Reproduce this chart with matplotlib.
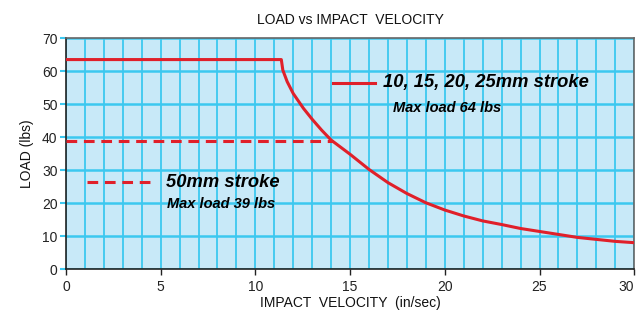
import numpy as np
import matplotlib.pyplot as plt
from matplotlib.ticker import MultipleLocator

plt.rcParams['font.family'] = ['Liberation Sans', 'DejaVu Sans']

velocity = [0, 11.37, 11.45, 11.68, 12, 12.54, 13, 13.5, 14, 15, 16, 17, 18, 19,
            20, 21, 22, 23, 24, 25, 26, 27, 28, 29, 30]
load_short = [63.5, 63.5, 60.3, 56.8, 53.2, 48.7, 45.4, 42.1, 39.1, 34.8, 30.2,
              26.2, 22.9, 20.1, 17.9, 16.1, 14.6, 13.5, 12.3, 11.4, 10.5, 9.6, 9.0, 8.4, 8.0]
velocity_50 = [0, 14.1]
load_50 = [38.8, 38.8]
x_ticks = [0, 5, 10, 15, 20, 25, 30]

red = '#e0202a'
grid_col = '#3cc8f0'

fig = plt.figure(figsize=(6.4, 3.1), dpi=100)
ax = fig.add_axes([0.103, 0.132, 0.888, 0.745])
ax.set_facecolor('#c8e9f8')

ax.set_xlim(0, 30)
ax.set_ylim(0, 70)
ax.set_xticks(x_ticks, [str(t) for t in x_ticks])
ax.xaxis.set_minor_locator(MultipleLocator(1))
ax.yaxis.set_major_locator(MultipleLocator(10))

ax.grid(which='both', axis='x', color=grid_col, lw=1.3)
ax.grid(which='major', axis='y', color=grid_col, lw=1.8)
ax.set_axisbelow(True)

ax.plot(velocity, load_short, color=red, lw=2.2, solid_joinstyle='round', zorder=3)
ax.plot(velocity_50, load_50, color=red, lw=2.2, dashes=(3.5, 2.2), zorder=3)

# legend-like annotations
ax.plot([14.1, 16.3], [56.5, 56.5], color=red, lw=2.2)
ax.text(16.75, 56.5, '10, 15, 20, 25mm stroke', fontsize=13.2, fontweight='bold',
        fontstyle='italic', va='center', ha='left')
ax.text(17.27, 48.8, 'Max load 64 lbs', fontsize=10.5, fontweight='bold',
        fontstyle='italic', va='center', ha='left')
ax.plot([1.1, 4.7], [26.3, 26.3], color=red, lw=2.2, dashes=(3.5, 2.2))
ax.text(5.3, 26.3, '50mm stroke', fontsize=13.2, fontweight='bold',
        fontstyle='italic', va='center', ha='left')
ax.text(5.35, 19.8, 'Max load 39 lbs', fontsize=10.5, fontweight='bold',
        fontstyle='italic', va='center', ha='left')

for s in ['top', 'right']:
    ax.spines[s].set_color('#666666')
    ax.spines[s].set_linewidth(1.2)
for s in ['left', 'bottom']:
    ax.spines[s].set_color('#222222')
    ax.spines[s].set_linewidth(1.2)

ax.tick_params(axis='x', which='major', length=4, width=1, color='#222222',
               labelsize=10, labelcolor='#222222', pad=4)
ax.tick_params(axis='x', which='minor', length=0)
ax.tick_params(axis='y', which='major', length=4, width=1.5, color=grid_col,
               labelsize=10, labelcolor='#222222', pad=2)

# keep the last x tick label inside the figure
ax.get_xticklabels()[-1].set_ha('right')

ax.set_title('LOAD vs IMPACT  VELOCITY', fontsize=10, color='#111111', pad=10)
ax.set_xlabel('IMPACT  VELOCITY  (in/sec)', fontsize=10, color='#111111', labelpad=1)
ax.set_ylabel('LOAD (lbs)', fontsize=10, color='#111111', labelpad=6)

fig.savefig('out.png', dpi=100)
